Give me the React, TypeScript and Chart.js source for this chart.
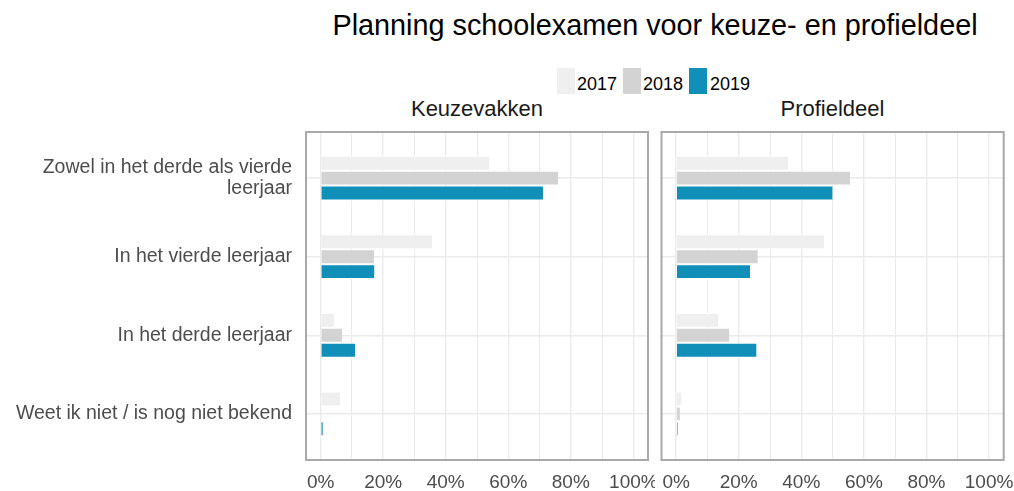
import React, { useEffect, useRef } from "react";
import { Chart, registerables } from "chart.js";

Chart.register(...registerables);

const FONT = '"Liberation Sans", Arial, sans-serif';

const titleText = "Planning schoolexamen voor keuze- en profieldeel";
const panelTitles = ["Keuzevakken", "Profieldeel"];
const categories: (string | string[])[] = [
  ["Zowel in het derde als vierde", "leerjaar"],
  "In het vierde leerjaar",
  "In het derde leerjaar",
  "Weet ik niet / is nog niet bekend",
];
const years = ["2017", "2018", "2019"];
const yearColors = ["#efefef", "#d3d3d3", "#108fb9"];

const keuze2017 = [54, 35.6, 4.3, 6.2];
const keuze2018 = [76, 17.1, 6.9, 0];
const keuze2019 = [71.1, 17.2, 11, 0.7];

const profiel2017 = [35.8, 47.3, 13.5, 1.7];
const profiel2018 = [55.6, 26.1, 17, 1.2];
const profiel2019 = [50, 23.6, 25.7, 0.5];

const xTickValues = [0, 10, 20, 30, 40, 50, 60, 70, 80, 90, 100];

const panelBorder = {
  id: "panelBorder",
  afterDatasetsDraw(chart: any) {
    const { ctx, chartArea } = chart;
    ctx.save();
    ctx.strokeStyle = "#a9a9a9";
    ctx.lineWidth = 2;
    ctx.strokeRect(
      chartArea.left + 1,
      chartArea.top + 1,
      chartArea.right - chartArea.left - 2,
      chartArea.bottom - chartArea.top - 2
    );
    ctx.restore();
  },
};

function makeConfig(series: number[][], showLabels: boolean, padding: any) {
  return {
    type: "bar" as const,
    data: {
      datasets: series.map((vals, i) => ({
        label: years[i],
        data: vals.map((v, j) => ({ x: v, y: j })),
        backgroundColor: yearColors[i],
        borderColor: "#ffffff",
        borderWidth: { top: 1, bottom: 1, left: 0, right: 0 },
        borderSkipped: false,
        categoryPercentage: 0.57,
        barPercentage: 1,
      })),
    },
    options: {
      indexAxis: "y" as const,
      responsive: false,
      animation: false as const,
      devicePixelRatio: 1,
      layout: { padding },
      plugins: {
        legend: { display: false },
        tooltip: { enabled: false },
        title: { display: false },
      },
      scales: {
        x: {
          type: "linear" as const,
          min: -5,
          max: 105,
          bounds: "data" as const,
          offset: false,
          afterBuildTicks: (s: any) => {
            s.ticks = xTickValues.map((v) => ({ value: v }));
          },
          afterFit: (s: any) => {
            s.height = 30;
            s.paddingLeft = 0;
            s.paddingRight = 0;
          },
          grid: {
            color: "#ebebeb",
            lineWidth: (c: any) => (c.tick && c.tick.value % 20 === 0 ? 1.4 : 1),
            drawTicks: false,
            offset: false,
          },
          border: { display: false },
          ticks: {
            autoSkip: false,
            maxRotation: 0,
            padding: 10,
            color: "#4d4d4d",
            font: { family: FONT, size: 19 },
            callback: (v: any) => (Number(v) % 20 === 0 ? `${v}%` : ""),
          },
        },
        y: {
          type: "linear" as const,
          reverse: true,
          min: -0.6,
          max: 3.6,
          bounds: "data" as const,
          offset: false,
          afterBuildTicks: (s: any) => {
            s.ticks = categories.map((_, i) => ({ value: i }));
          },
          afterFit: (s: any) => {
            s.width = showLabels ? 305 : 0;
            s.paddingTop = 0;
            s.paddingBottom = 0;
          },
          grid: { color: "#ebebeb", lineWidth: 1.4, drawTicks: false, offset: false },
          border: { display: false },
          ticks: {
            display: showLabels,
            autoSkip: false,
            padding: 13,
            color: "#4d4d4d",
            font: { family: FONT, size: 19.5, lineHeight: 1.08 },
            callback: (v: any) => categories[Number(v)] as any,
          },
        },
      },
    },
    plugins: [panelBorder],
  };
}

export default function App() {
  const leftRef = useRef<HTMLCanvasElement>(null);
  const rightRef = useRef<HTMLCanvasElement>(null);

  useEffect(() => {
    const left = new Chart(
      leftRef.current as HTMLCanvasElement,
      makeConfig([keuze2017, keuze2018, keuze2019], true, {
        top: 131,
        right: 6,
        bottom: 0,
        left: 0,
      }) as any
    );
    const right = new Chart(
      rightRef.current as HTMLCanvasElement,
      makeConfig([profiel2017, profiel2018, profiel2019], false, {
        top: 131,
        right: 9.3,
        bottom: 0,
        left: 10.5,
      }) as any
    );
    return () => {
      left.destroy();
      right.destroy();
    };
  }, []);

  const legendBoxX = [557, 623, 689];
  const legendTextX = [577, 643, 710];

  return (
    <div
      style={{
        position: "fixed",
        left: 0,
        top: 0,
        width: 1014,
        height: 491,
        background: "#ffffff",
        fontFamily: FONT,
        overflow: "hidden",
      }}
    >
      <div
        style={{
          position: "absolute",
          left: 300,
          width: 710,
          top: 11,
          textAlign: "center",
          fontSize: 28.8,
          lineHeight: "28.8px",
          color: "#000000",
          whiteSpace: "nowrap",
        }}
      >
        {titleText}
      </div>
      {years.map((y, i) => (
        <React.Fragment key={y}>
          <div
            style={{
              position: "absolute",
              left: legendBoxX[i],
              top: 68,
              width: 18,
              height: 26,
              background: yearColors[i],
            }}
          />
          <div
            style={{
              position: "absolute",
              left: legendTextX[i],
              top: 75,
              fontSize: 18,
              lineHeight: "18px",
              color: "#000000",
            }}
          >
            {y}
          </div>
        </React.Fragment>
      ))}
      <div
        style={{
          position: "absolute",
          left: 305,
          width: 344,
          top: 98,
          textAlign: "center",
          fontSize: 22,
          lineHeight: "22px",
          color: "#1a1a1a",
        }}
      >
        {panelTitles[0]}
      </div>
      <div
        style={{
          position: "absolute",
          left: 660,
          width: 345,
          top: 98,
          textAlign: "center",
          fontSize: 22,
          lineHeight: "22px",
          color: "#1a1a1a",
        }}
      >
        {panelTitles[1]}
      </div>
      <canvas
        ref={leftRef}
        width={655}
        height={491}
        style={{ position: "absolute", left: 0, top: 0, width: 655, height: 491 }}
      />
      <canvas
        ref={rightRef}
        width={364}
        height={491}
        style={{ position: "absolute", left: 650, top: 0, width: 364, height: 491 }}
      />
    </div>
  );
}
